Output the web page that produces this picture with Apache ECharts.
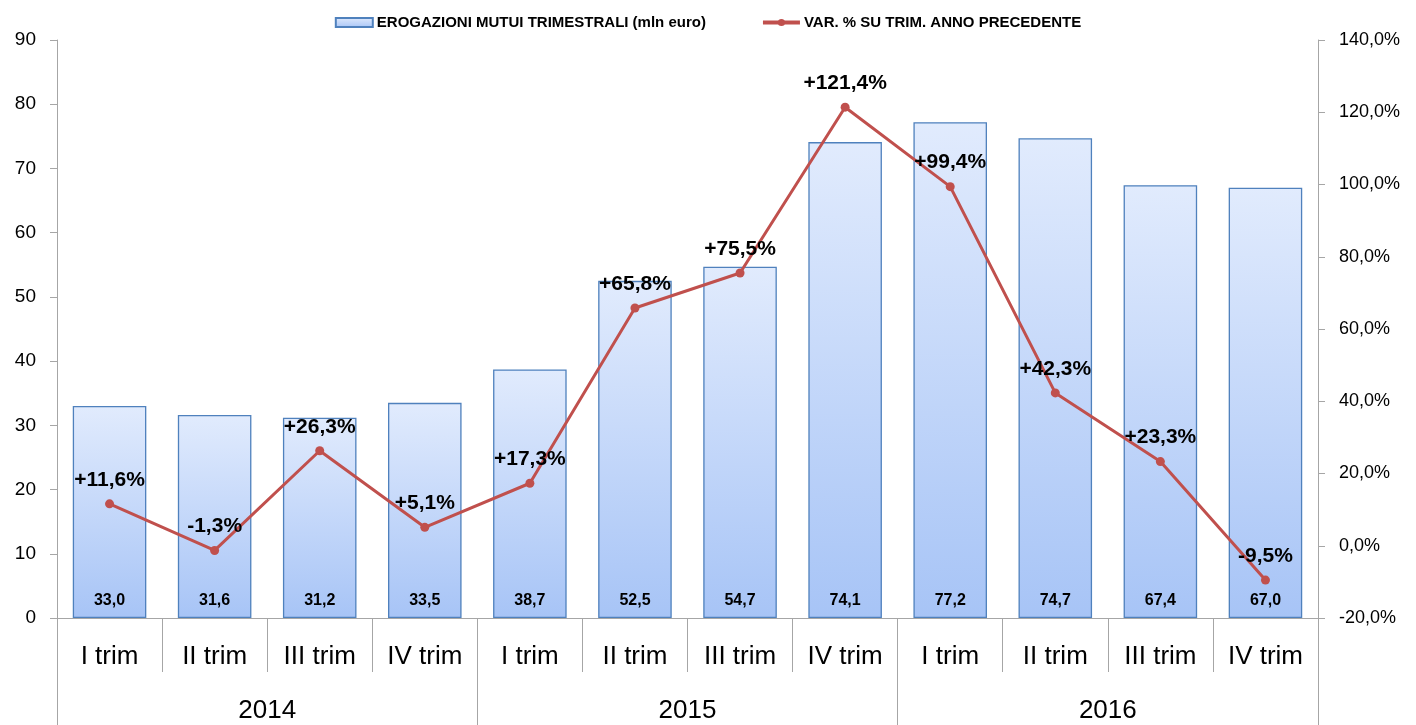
<!DOCTYPE html>
<html><head><meta charset="utf-8">
<script src="https://cdn.jsdelivr.net/npm/echarts@6/dist/echarts.min.js"></script>
<style>html,body{margin:0;padding:0;background:#fff}#c{width:1416px;height:725px}</style>
</head><body><div id="c"></div>
<script>
const quarters = ['I trim','II trim','III trim','IV trim','I trim','II trim','III trim','IV trim','I trim','II trim','III trim','IV trim'];
const years = ['2014','2015','2016'];
const erogazioni = [33.0,31.6,31.2,33.5,38.7,52.5,54.7,74.1,77.2,74.7,67.4,67.0];
const variazione = [11.6,-1.3,26.3,5.1,17.3,65.8,75.5,121.4,99.4,42.3,23.3,-9.5];
const leftTicks = {min:0,max:90,interval:10};
const rightTicks = {min:-20,max:140,interval:20};

const FONT = 'Liberation Sans, Arial, sans-serif';
const fmt1 = v => v.toFixed(1).replace('.',',');
const chart = echarts.init(document.getElementById('c'));
const axisCol = '#a6a6a6';
chart.setOption({
  animation:false,
  legend:{
    top:10, left:'center', itemGap:55, itemWidth:37, itemHeight:9,
    textStyle:{fontFamily:FONT,fontWeight:'bold',fontSize:15,color:'#000',padding:[0,0,0,-1]},
    data:[
      {name:'EROGAZIONI MUTUI TRIMESTRALI (mln euro)',icon:'rect'},
      {name:'VAR. % SU TRIM. ANNO PRECEDENTE',lineStyle:{width:4},itemStyle:{color:'#c0504d'}}
    ]
  },
  grid:{left:57,right:98,top:40,bottom:107},
  xAxis:[{
    type:'category', data:quarters, position:'bottom',
    axisLine:{onZero:false,lineStyle:{color:axisCol}},
    axisTick:{show:true,interval:0,length:54,lineStyle:{color:axisCol}},
    axisLabel:{interval:0,margin:26,fontFamily:FONT,fontSize:26,color:'#000'}
  },{
    type:'category', data:years, position:'bottom',
    axisLine:{show:false,onZero:false},
    axisTick:{show:true,interval:0,length:107,lineStyle:{color:axisCol}},
    axisLabel:{interval:0,margin:80,fontFamily:FONT,fontSize:26,color:'#000'}
  }],
  yAxis:[{
    type:'value', min:leftTicks.min, max:leftTicks.max, interval:leftTicks.interval,
    splitLine:{show:false},
    axisLine:{show:true,lineStyle:{color:axisCol}},
    axisTick:{show:true,length:7,lineStyle:{color:axisCol}},
    axisLabel:{margin:21,fontFamily:FONT,fontSize:19,color:'#000'}
  },{
    type:'value', min:rightTicks.min, max:rightTicks.max, interval:rightTicks.interval,
    position:'right',
    splitLine:{show:false},
    axisLine:{show:true,lineStyle:{color:axisCol}},
    axisTick:{show:true,length:7,lineStyle:{color:axisCol}},
    axisLabel:{margin:21,fontFamily:FONT,fontSize:18,color:'#000',formatter:v=>fmt1(v)+'%'}
  }],
  series:[{
    name:'EROGAZIONI MUTUI TRIMESTRALI (mln euro)',
    type:'bar', xAxisIndex:0, yAxisIndex:0, data:erogazioni, barCategoryGap:'30%',
    itemStyle:{
      color:new echarts.graphic.LinearGradient(0,0,0,1,[{offset:0,color:'#e1ebfd'},{offset:1,color:'#a7c4f6'}]),
      borderColor:'#4f81bd', borderWidth:1.3
    },
    label:{show:true,position:'insideBottom',distance:9,fontFamily:FONT,fontWeight:'bold',fontSize:16,color:'#000',formatter:p=>fmt1(p.value)}
  },{
    name:'VAR. % SU TRIM. ANNO PRECEDENTE',
    type:'line', xAxisIndex:0, yAxisIndex:1, data:variazione, z:5,
    symbol:'circle', symbolSize:9,
    lineStyle:{color:'#c0504d',width:3},
    itemStyle:{color:'#c0504d'},
    label:{show:true,position:'top',distance:9,fontFamily:FONT,fontWeight:'bold',fontSize:21,color:'#000',
      formatter:p=>(p.value>0?'+':'')+fmt1(p.value)+'%'}
  }]
});
</script></body></html>
